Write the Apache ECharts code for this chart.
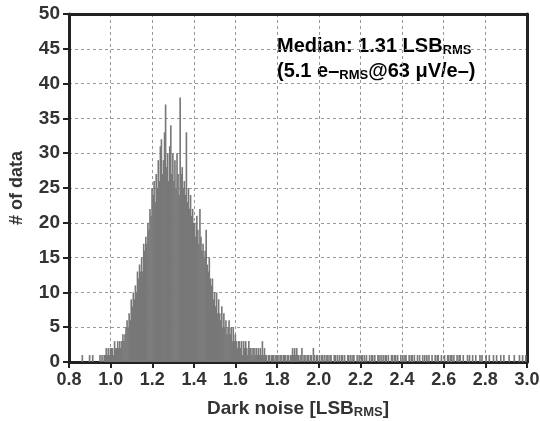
<!DOCTYPE html>
<html>
<head>
<meta charset="utf-8">
<script src="https://cdn.jsdelivr.net/npm/echarts@6/dist/echarts.min.js"></script>
<style>
  html, body { margin: 0; padding: 0; background: #fff; }
  #chart { width: 540px; height: 421px; }
</style>
</head>
<body>
<div id="chart"></div>
<script>
// histogram bins: width 0.005, one row per 0.1 of dark noise
var binWidth = 0.005
var rowStarts = [0.8, 0.9, 1.0, 1.1, 1.2, 1.3, 1.4, 1.5, 1.6, 1.7, 1.8, 1.9,
  2.0, 2.1, 2.2, 2.3, 2.4, 2.5, 2.6, 2.7, 2.8, 2.9]
var countRows = [
  [0, 0, 0, 0, 0, 0, 0, 0, 0, 0, 0, 0, 1, 0, 0, 0, 0, 0, 0, 1],
  [0, 0, 1, 0, 0, 0, 0, 0, 0, 1, 0, 1, 0, 1, 1, 2, 1, 2, 1, 2],
  [2, 2, 1, 3, 2, 2, 3, 2, 3, 2, 3, 4, 3, 4, 5, 6, 5, 7, 6, 9],
  [8, 10, 9, 11, 10, 13, 12, 14, 13, 15, 13, 17, 16, 18, 17, 20, 19, 22, 21, 25],
  [24, 26, 23, 27, 25, 29, 26, 31, 32, 27, 29, 33, 37, 28, 30, 26, 31, 34, 27, 30],
  [26, 29, 25, 30, 27, 24, 38, 27, 28, 25, 26, 24, 33, 23, 25, 22, 24, 21, 22, 20],
  [20, 18, 21, 19, 17, 22, 18, 16, 17, 15, 16, 19, 14, 13, 15, 12, 11, 12, 9, 10],
  [8, 10, 7, 9, 7, 6, 8, 5, 7, 5, 6, 4, 5, 6, 4, 5, 3, 5, 3, 4],
  [3, 2, 3, 3, 2, 3, 1, 3, 2, 3, 2, 1, 3, 2, 2, 1, 2, 2, 1, 2],
  [1, 2, 1, 2, 1, 3, 1, 2, 1, 1, 0, 1, 1, 0, 1, 1, 1, 0, 1, 1],
  [1, 0, 1, 1, 0, 1, 1, 1, 0, 1, 1, 0, 1, 1, 2, 1, 2, 1, 2, 1],
  [1, 0, 1, 2, 0, 1, 1, 0, 1, 1, 0, 1, 1, 0, 2, 1, 0, 1, 1, 0],
  [1, 0, 1, 1, 0, 1, 0, 1, 1, 0, 1, 1, 0, 0, 1, 1, 0, 1, 0, 1],
  [0, 1, 1, 0, 1, 0, 0, 1, 1, 0, 1, 0, 1, 1, 0, 0, 1, 0, 1, 0],
  [1, 1, 0, 1, 0, 1, 0, 0, 1, 0, 1, 1, 0, 1, 0, 0, 1, 1, 0, 1],
  [0, 1, 0, 1, 1, 0, 1, 0, 0, 1, 1, 0, 1, 1, 0, 1, 0, 0, 1, 0],
  [1, 0, 1, 1, 0, 0, 1, 0, 1, 1, 0, 1, 0, 0, 1, 0, 1, 0, 0, 1],
  [0, 1, 0, 1, 0, 1, 0, 0, 1, 0, 0, 1, 0, 1, 1, 0, 0, 1, 0, 0],
  [1, 0, 0, 1, 1, 0, 1, 1, 0, 1, 0, 0, 1, 0, 1, 1, 0, 0, 1, 0],
  [0, 0, 1, 0, 1, 0, 0, 1, 0, 0, 1, 0, 0, 0, 1, 0, 1, 0, 0, 0],
  [1, 0, 0, 1, 0, 0, 0, 1, 0, 0, 1, 0, 0, 0, 1, 0, 0, 1, 0, 0],
  [0, 0, 1, 0, 0, 0, 0, 1, 0, 0, 0, 0, 1, 0, 0, 1, 0, 0, 1, 0]
]
var xTicks = [0.8, 1.0, 1.2, 1.4, 1.6, 1.8, 2.0, 2.2, 2.4, 2.6, 2.8, 3.0]
var yTicks = [0, 5, 10, 15, 20, 25, 30, 35, 40, 45, 50]

var font = '"Liberation Sans", Arial, sans-serif'
var ink = '#333'
var frame = '#222'

var bins = []
countRows.forEach(function (row, r) {
  row.forEach(function (n, i) {
    if (n > 0) bins.push([+(rowStarts[r] + i * binWidth).toFixed(3), n])
  })
})

function renderBar(params, api) {
  var x0 = api.value(0)
  var top = api.coord([x0, api.value(1)])
  var base = api.coord([x0 + binWidth, 0])
  // a little overlap so neighbouring bins fill solid
  return {
    type: 'rect',
    shape: { x: top[0], y: top[1], width: base[0] - top[0] + 0.6, height: base[1] - top[1] },
    style: { fill: '#787878' }
  }
}

var dashed = { lineStyle: { color: '#999', type: [3, 3], width: 1 } }

var chart = echarts.init(document.getElementById('chart'))
chart.setOption({
  animation: false,
  backgroundColor: '#fff',
  grid: { left: 69, right: 13, top: 14, bottom: 59, containLabel: false, outerBoundsMode: 'none' },
  xAxis: [{
    type: 'value',
    min: xTicks[0],
    max: xTicks[xTicks.length - 1],
    interval: 0.2,
    name: '{t|Dark noise [LSB}{s|RMS}{t|]}',
    nameLocation: 'middle',
    nameGap: 37,
    nameTextStyle: {
      rich: {
        t: { fontFamily: font, fontWeight: 'bold', fontSize: 19, color: ink },
        s: { fontFamily: font, fontWeight: 'bold', fontSize: 13, color: ink, padding: [7, 0, 0, 0] }
      }
    },
    axisLine: { onZero: false, lineStyle: { color: frame, width: 3 } },
    axisTick: { length: 6, lineStyle: { color: frame, width: 2 } },
    axisLabel: {
      fontFamily: font, fontWeight: 'bold', fontSize: 18, color: ink, margin: 9,
      formatter: function (v) { return v.toFixed(1) }
    },
    splitLine: dashed
  }, {
    type: 'value',
    position: 'top',
    min: xTicks[0],
    max: xTicks[xTicks.length - 1],
    axisLine: { show: true, onZero: false, lineStyle: { color: frame, width: 3 } },
    axisTick: { show: false },
    axisLabel: { show: false },
    splitLine: { show: false }
  }],
  yAxis: [{
    type: 'value',
    position: 'left',
    min: yTicks[0],
    max: yTicks[yTicks.length - 1],
    interval: 5,
    name: '# of data',
    nameLocation: 'middle',
    nameGap: 43,
    nameTextStyle: { fontFamily: font, fontWeight: 'bold', fontSize: 18, color: ink },
    axisLine: { show: true, onZero: false, lineStyle: { color: frame, width: 3 } },
    axisTick: { show: true, length: 6, lineStyle: { color: frame, width: 2 } },
    axisLabel: { fontFamily: font, fontWeight: 'bold', fontSize: 19, color: ink, margin: 9 },
    splitLine: dashed
  }, {
    type: 'value',
    position: 'right',
    min: yTicks[0],
    max: yTicks[yTicks.length - 1],
    axisLine: { show: true, onZero: false, lineStyle: { color: frame, width: 3 } },
    axisTick: { show: false },
    axisLabel: { show: false },
    splitLine: { show: false }
  }],
  graphic: [{
    type: 'group',
    left: 266,
    top: 25,
    z: 100,
    children: [{
      type: 'rect',
      shape: { x: 0, y: 0, width: 238, height: 66 },
      style: { fill: '#fff' }
    }, {
      type: 'text',
      x: 11,
      y: 9,
      style: {
        text: '{a|Median: 1.31 LSB}{s|RMS}\n{a|(5.1 e–}{s|RMS}{a|@63 μV/e–)}',
        rich: {
          a: { fontFamily: font, fontWeight: 'bold', fontSize: 20, color: ink, lineHeight: 25 },
          s: { fontFamily: font, fontWeight: 'bold', fontSize: 13, color: ink, lineHeight: 25, padding: [8, 0, 0, 0] }
        }
      }
    }]
  }],
  series: [{
    type: 'custom',
    renderItem: renderBar,
    encode: { x: 0, y: 1 },
    data: bins,
    clip: true
  }]
})
</script>
</body>
</html>
